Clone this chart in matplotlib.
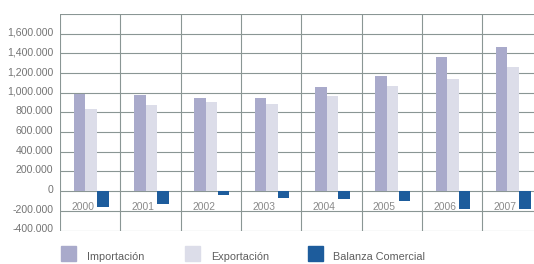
import matplotlib
matplotlib.use("Agg")
import matplotlib.pyplot as plt
import matplotlib.transforms as mtransforms
import numpy as np
from matplotlib.patches import Rectangle

years = ["2000", "2001", "2002", "2003", "2004", "2005", "2006", "2007"]
importacion = [990000, 976000, 942000, 946000, 1054000, 1173000, 1360000, 1462000]
exportacion = [833000, 874000, 901000, 888000, 969000, 1071000, 1140000, 1262000]
balanza = [-166000, -126000, -38000, -71000, -82000, -105000, -184000, -177000]
yticks = [-400000, -200000, 0, 200000, 400000, 600000, 800000, 1000000,
          1200000, 1400000, 1600000]
ytick_labels = ["-400.000", "-200.000", "0", "200.000", "400.000", "600.000",
                "800.000", "1,000.000", "1,200.000", "1,400.000", "1,600.000"]
series_names = ["Importación", "Exportación", "Balanza Comercial"]

c_imp = "#a9aacb"
c_exp = "#dcdde9"
c_bal = "#1d5c9c"
grid_c = "#8a9694"
text_c = "#707070"

plt.rcParams['font.family'] = ['Liberation Sans', 'DejaVu Sans']

fig = plt.figure(figsize=(5.34, 2.64), dpi=100)
fig.patch.set_facecolor("white")
# plot area: x 60..534 px, y 14..230.5 px
ax = fig.add_axes([60/534, 1 - 230.5/264, (534 - 60)/534, (230.5 - 14)/264])
ax.set_facecolor("white")

x = np.arange(len(years))
w = 0.19
ax.bar(x - 0.175, importacion, width=w, color=c_imp, zorder=3)
ax.bar(x + 0.015, exportacion, width=w, color=c_exp, zorder=3)
ax.bar(x + 0.21, balanza, width=w, color=c_bal, zorder=3)

ax.set_xlim(-0.5, 7.36)
ax.set_ylim(-400000, 1800000)

for yv in range(-400000, 1800001, 200000):
    ax.axhline(yv, color=grid_c, lw=0.8, zorder=1)
for xv in np.arange(-0.5, 7.6, 1.0):
    ax.axvline(xv, color=grid_c, lw=0.8, zorder=1)

for s in ax.spines.values():
    s.set_visible(False)

ax.set_yticks(yticks)
ax.set_yticklabels(ytick_labels)
ax.tick_params(axis='y', length=0, pad=5, labelsize=7.6, labelcolor="#747474")
ax.set_xticks([])
off = mtransforms.ScaledTranslation(0, 2/100, fig.dpi_scale_trans)
for lbl in ax.get_yticklabels():
    lbl.set_transform(lbl.get_transform() + off)

for i, yr in enumerate(years):
    ax.text(i - 0.12, -161000, yr, ha='center', va='center', fontsize=7.4,
            color="#8a8a8a", zorder=4)

# legend
leg = [(61, series_names[0], c_imp, 87), (185, series_names[1], c_exp, 211),
       (308, series_names[2], c_bal, 333)]
for px, name, col, tx in leg:
    fig.patches.append(Rectangle((px/534, 1 - 261/264), 15/534, 15/264,
                                 transform=fig.transFigure, color=col))
    fig.text(tx/534, 1 - 257.5/264, name, fontsize=7.8, color="#5e5e5e",
             ha='left', va='center')

fig.savefig("out.png", dpi=100)
